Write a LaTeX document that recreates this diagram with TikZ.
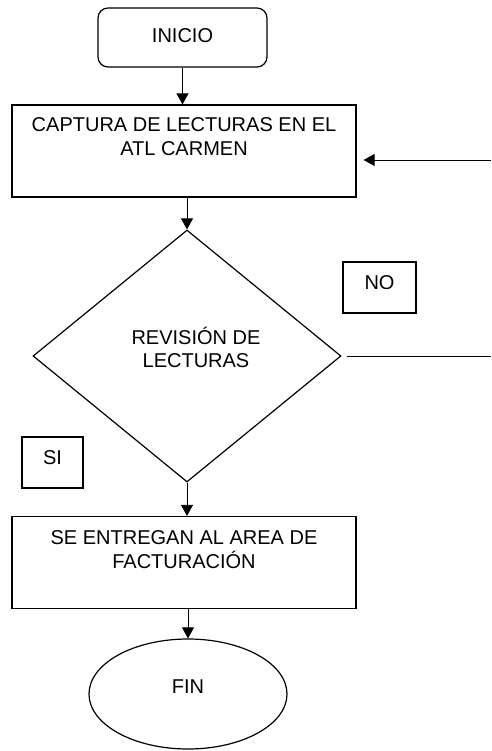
\documentclass[tikz,border=0pt]{standalone}
\usepackage{fontspec}
\setmainfont{Liberation Sans}
\usetikzlibrary{shapes,arrows.meta,positioning,calc}

\begin{document}
\begin{tikzpicture}[x=1pt, y=-1pt, >={Triangle[width=12pt,length=11pt]},
    box/.style={draw, line width=1.2pt, rectangle, minimum width=344pt, minimum height=92pt, inner sep=0pt},
    txt/.style={align=center, inner sep=0pt, font=\fontsize{20}{23.5}\selectfont},
    tag/.style={draw, line width=1.2pt, rectangle, inner sep=0pt, font=\fontsize{20}{23.5}\selectfont},
    flow/.style={->, line width=0.8pt}]
    \useasboundingbox (0,0) rectangle (491,751);

    \node[tag, rounded corners=10pt, minimum width=169pt, minimum height=59pt, text depth=4pt] (inicio) at (182.5,37.5) {INICIO};
    \node[box] (captura) at (184,151) {};
    \node[txt, anchor=north] (capturatxt) at (184,117.5) {CAPTURA DE LECTURAS EN EL\\ATL CARMEN};

    \node[draw, line width=1.2pt, diamond, inner sep=0pt, minimum width=308pt, minimum height=252pt] (revision) at (187,356) {};
    \node[txt, anchor=north] (revisiontxt) at (196,326.5) {REVISIÓN DE\\LECTURAS};

    \node[tag, minimum width=73pt, minimum height=51pt, text depth=9pt] (no) at (379.5,287.5) {NO};
    \node[tag, minimum width=61pt, minimum height=51pt, text depth=10pt] (si) at (52.5,462.5) {SI};

    \node[box] (entrega) at (184,562.5) {};
    \node[txt, anchor=north] (entregatxt) at (184,530.5) {SE ENTREGAN AL AREA DE\\FACTURACIÓN};

    \node[tag, ellipse, minimum width=198pt, minimum height=110pt, text depth=15pt] (fin) at (188,694) {FIN};

    \coordinate (retorno) at (491,160);
    \coordinate (salida) at (491,356);

    \draw[flow] (inicio.south) -- (inicio.south |- captura.north);
    \draw[flow] (revision.north |- captura.south) -- (revision.north);
    \draw[flow] (revision.south) -- (revision.south |- entrega.north);
    \draw[flow] (fin.north |- entrega.south) -- (fin.north);
    \draw[flow, shorten >=7pt] (retorno) -- (retorno -| captura.east);
    \draw[line width=0.8pt, shorten <=5pt] (revision.east) -- (salida);
\end{tikzpicture}
\end{document}
